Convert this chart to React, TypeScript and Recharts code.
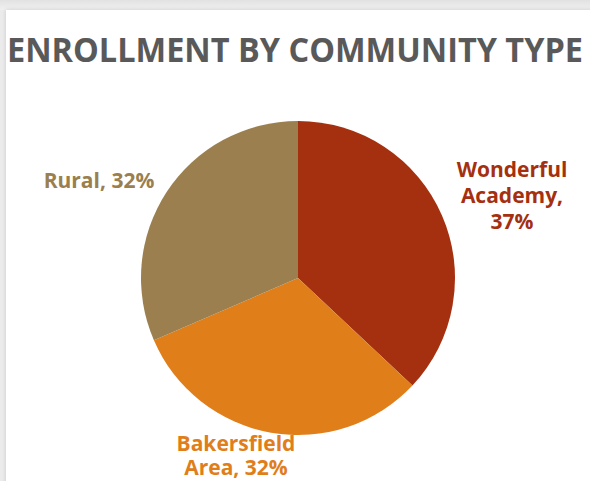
import React from "react";
import { PieChart, Pie, Cell } from "recharts";

const categories = ["Wonderful Academy", "Bakersfield Area", "Rural"];
const values = [37, 31.5, 31.5];
const colors = ["#A5300F", "#E07E1A", "#9B7F4E"];
const title = "ENROLLMENT BY COMMUNITY TYPE";

// label layout: offsets from pie centre (first baseline), line height and words per line
const labelLayout = [
  { dx: 214, dy: -101, lh: 26, words: [1, 1, 1] },
  { dx: -62, dy: 173, lh: 24, words: [1, 2] },
  { dx: -199, dy: -90, lh: 24, words: [3] },
];

const total = values.reduce((a, b) => a + b, 0);
const data = categories.map((name, i) => ({ name, value: values[i] }));

const FONT = "'Open Sans', 'DejaVu Sans', sans-serif";

const renderLabel = (props: any) => {
  const { cx, cy, index, value, name } = props;
  const lay = labelLayout[index];
  const pct = Math.round((value / total) * 100);
  const words = `${name}, ${pct}%`.split(" ");
  const lines: string[] = [];
  let k = 0;
  for (const n of lay.words) {
    lines.push(words.slice(k, k + n).join(" "));
    k += n;
  }
  return (
    <text
      x={cx + lay.dx}
      y={cy + lay.dy}
      textAnchor="middle"
      fill={colors[index]}
      fontFamily={FONT}
      fontWeight={700}
      fontSize={21}
    >
      {lines.map((l, j) => (
        <tspan key={j} x={cx + lay.dx} dy={j === 0 ? 0 : lay.lh}>
          {l}
        </tspan>
      ))}
    </text>
  );
};

export default function App() {
  return (
    <div
      style={{
        position: "absolute",
        left: 0,
        top: 0,
        width: 590,
        height: 481,
        background: "#ebebeb",
        overflow: "hidden",
      }}
    >
      <div
        style={{
          position: "absolute",
          left: 0,
          top: 0,
          width: 590,
          height: 10,
          background: "linear-gradient(#e2e2e2, #f0f0f0)",
        }}
      />
      <div
        style={{
          position: "absolute",
          left: 6,
          top: 10,
          width: 600,
          height: 500,
          background: "#ffffff",
          boxShadow: "0 0 4px rgba(0,0,0,0.15)",
        }}
      />
      <div style={{ position: "absolute", left: 0, top: 0 }}>
        <PieChart
          width={590}
          height={481}
          margin={{ top: 0, right: 0, bottom: 0, left: 0 }}
        >
          <text
            x={7}
            y={62}
            fill="#595959"
            fontFamily={FONT}
            fontWeight={700}
            fontSize={34}
            textLength={576}
            lengthAdjust="spacingAndGlyphs"
          >
            {title}
          </text>
          <Pie
            data={data}
            dataKey="value"
            nameKey="name"
            cx={298}
            cy={278}
            outerRadius={157}
            startAngle={90}
            endAngle={-270}
            stroke="none"
            label={renderLabel}
            labelLine={false}
            isAnimationActive={false}
          >
            {data.map((d, i) => (
              <Cell key={d.name} fill={colors[i]} />
            ))}
          </Pie>
        </PieChart>
      </div>
    </div>
  );
}
